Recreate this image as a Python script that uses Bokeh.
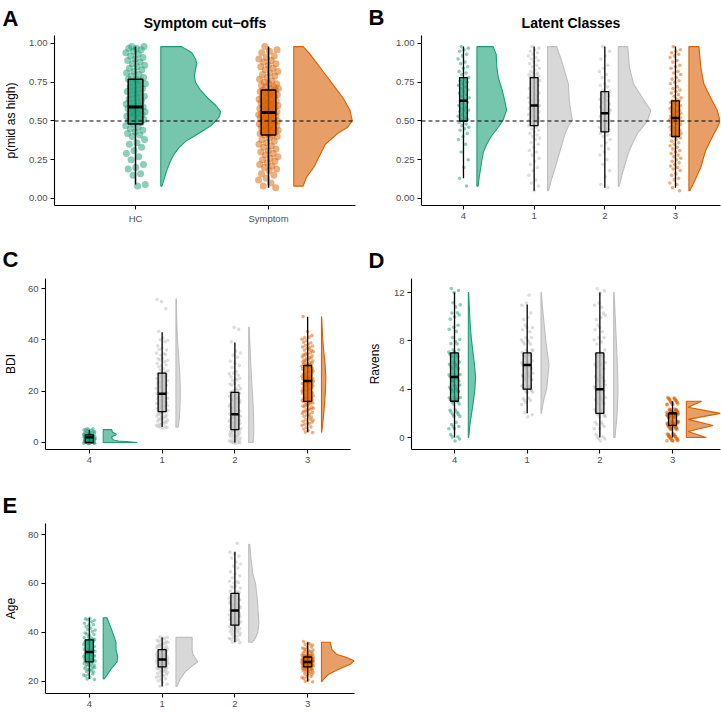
import numpy as np
from bokeh.plotting import figure
from bokeh.models import FixedTicker, PrintfTickFormatter, Span, Label
from bokeh.layouts import column, row
from bokeh.embed import file_html
from bokeh.resources import INLINE

GREEN = "#1B9E77"
ORANGE = "#D95F02"
GREY = "#BEBEBE"
FONT = "Liberation Sans"

# ---------------- Panel A : Symptom cut-offs ----------------
a_groups = ["HC", "Symptom"]
a_hc_points = [0.98, 0.98, 0.97, 0.97, 0.96, 0.95, 0.94, 0.93, 0.92, 0.91, 0.90, 0.89, 0.88, 0.87,
               0.86, 0.85, 0.84, 0.83, 0.82, 0.81, 0.80, 0.79, 0.78, 0.77, 0.77,
               0.76, 0.75, 0.74, 0.73, 0.72, 0.71, 0.70, 0.69, 0.68, 0.67, 0.66, 0.65, 0.64, 0.63,
               0.62, 0.61, 0.60, 0.59, 0.59, 0.58, 0.58, 0.57, 0.56, 0.56, 0.55, 0.55, 0.54, 0.54,
               0.53, 0.52, 0.52, 0.51, 0.50, 0.50, 0.49, 0.48, 0.47, 0.46, 0.45, 0.44, 0.43, 0.42,
               0.41, 0.40, 0.38, 0.36, 0.35, 0.33, 0.31, 0.29, 0.27, 0.25, 0.22, 0.20, 0.19, 0.16,
               0.15, 0.09, 0.08]
a_sym_points = [0.98, 0.96, 0.95, 0.94, 0.92, 0.91, 0.90, 0.89, 0.88, 0.87, 0.86, 0.85, 0.84, 0.83,
                0.82, 0.81, 0.80, 0.79, 0.78, 0.77, 0.76, 0.75, 0.74, 0.74, 0.73, 0.72, 0.72, 0.71,
                0.71, 0.70, 0.70, 0.69, 0.69, 0.68, 0.68, 0.67, 0.67, 0.66, 0.66, 0.65, 0.64, 0.64,
                0.63, 0.63, 0.62, 0.62, 0.61, 0.61, 0.60, 0.60, 0.59, 0.59, 0.58, 0.58, 0.57, 0.57,
                0.56, 0.56, 0.55, 0.55, 0.55, 0.54, 0.54, 0.53, 0.53, 0.52, 0.52, 0.51, 0.51, 0.50,
                0.50, 0.50, 0.49, 0.49, 0.48, 0.48, 0.47, 0.47, 0.46, 0.46, 0.45, 0.45, 0.44, 0.44,
                0.43, 0.43, 0.42, 0.42, 0.41, 0.41, 0.40, 0.39, 0.38, 0.37, 0.36, 0.35, 0.34, 0.33,
                0.32, 0.31, 0.30, 0.29, 0.28, 0.27, 0.26, 0.25, 0.24, 0.23, 0.22, 0.21, 0.20, 0.19,
                0.18, 0.16, 0.15, 0.13, 0.12, 0.10, 0.08, 0.07]
# box stats: q1, median, q3, lower whisker, upper whisker
a_hc_box = [0.48, 0.59, 0.77, 0.09, 0.98]
a_sym_box = [0.41, 0.555, 0.70, 0.07, 0.98]
# half-violin density profiles: values and relative widths
a_hc_dens_y = [0.98, 0.94, 0.90, 0.87, 0.83, 0.79, 0.75, 0.70, 0.65, 0.60, 0.56, 0.53, 0.50,
               0.47, 0.44, 0.40, 0.37, 0.33, 0.29, 0.24, 0.18, 0.13, 0.08]
a_hc_dens_w = [0.35, 0.52, 0.58, 0.60, 0.58, 0.56, 0.58, 0.66, 0.78, 0.92, 1.00, 0.98, 0.92,
               0.84, 0.72, 0.55, 0.42, 0.31, 0.23, 0.16, 0.10, 0.06, 0.02]
a_sym_dens_y = [0.98, 0.94, 0.87, 0.80, 0.74, 0.65, 0.57, 0.50, 0.46, 0.42, 0.35, 0.29, 0.20, 0.14, 0.08]
a_sym_dens_w = [0.16, 0.26, 0.40, 0.54, 0.66, 0.84, 0.96, 1.00, 0.92, 0.75, 0.54, 0.46, 0.34, 0.22, 0.16]
a_dens_max = [0.45, 0.44]

# ---------------- Panels B-E : latent classes ----------------
class_labels = ["4", "1", "2", "3"]
class_colors = [GREEN, GREY, GREY, ORANGE]

# Panel B : p(mid as high) by latent class
b_c4_points = [0.98, 0.97, 0.96, 0.95, 0.93, 0.92, 0.90, 0.88, 0.87, 0.85, 0.84, 0.82, 0.81, 0.80, 0.78,
               0.77, 0.76, 0.75, 0.74, 0.73, 0.72, 0.71, 0.70, 0.69, 0.68, 0.67, 0.66, 0.65, 0.64, 0.63,
               0.62, 0.61, 0.60, 0.59, 0.58, 0.57, 0.57, 0.56, 0.55, 0.54, 0.53, 0.52, 0.51, 0.51, 0.50,
               0.49, 0.48, 0.47, 0.46, 0.45, 0.44, 0.42, 0.40, 0.38, 0.35, 0.30, 0.25, 0.20, 0.13, 0.08]
b_c1_points = [0.98, 0.97, 0.96, 0.95, 0.94, 0.93, 0.92, 0.91, 0.90, 0.89, 0.88, 0.87, 0.86, 0.85, 0.84,
               0.83, 0.82, 0.81, 0.81, 0.80, 0.80, 0.79, 0.79, 0.78, 0.78,
               0.77, 0.77, 0.76, 0.75, 0.74, 0.73, 0.72, 0.71, 0.70, 0.69, 0.68, 0.67, 0.67, 0.66, 0.65,
               0.65, 0.64, 0.63, 0.63, 0.62, 0.62, 0.61, 0.61, 0.60, 0.60,
               0.59, 0.59, 0.58, 0.58, 0.57, 0.57, 0.56, 0.56, 0.55, 0.55, 0.54, 0.54, 0.53, 0.53, 0.52,
               0.52, 0.51, 0.51, 0.50, 0.50, 0.50, 0.49, 0.49, 0.48, 0.47,
               0.46, 0.45, 0.44, 0.43, 0.42, 0.41, 0.40, 0.39, 0.38, 0.36, 0.35, 0.33, 0.31, 0.30, 0.28,
               0.26, 0.24, 0.22, 0.20, 0.18, 0.15, 0.12, 0.10, 0.08, 0.05]
b_c2_points = [0.98, 0.95, 0.92, 0.90, 0.86, 0.84, 0.82, 0.80, 0.78, 0.76, 0.74, 0.73, 0.72, 0.70, 0.69,
               0.68, 0.67, 0.66, 0.65, 0.64, 0.63, 0.62, 0.61, 0.60, 0.59, 0.58, 0.57, 0.57, 0.56, 0.55,
               0.55, 0.54, 0.53, 0.52, 0.51, 0.50, 0.50, 0.49, 0.48, 0.47, 0.46, 0.45, 0.44, 0.44, 0.43,
               0.42, 0.41, 0.40, 0.38, 0.36, 0.34, 0.32, 0.30, 0.28, 0.25, 0.22, 0.18, 0.14, 0.09, 0.07]
b_c3_points = [0.98, 0.96, 0.95, 0.94, 0.93, 0.92, 0.91, 0.89, 0.88, 0.86, 0.85, 0.84, 0.82, 0.81, 0.80,
               0.78, 0.77, 0.76, 0.75, 0.74, 0.72, 0.71, 0.70, 0.69, 0.68, 0.67, 0.66, 0.65, 0.64, 0.63,
               0.63, 0.62, 0.62, 0.61, 0.61, 0.60, 0.60, 0.59, 0.59, 0.58, 0.58, 0.57, 0.57, 0.57, 0.56,
               0.56, 0.56, 0.55, 0.55, 0.55, 0.54, 0.54, 0.54, 0.53, 0.53, 0.53, 0.52, 0.52, 0.52, 0.52,
               0.51, 0.51, 0.51, 0.50, 0.50, 0.50, 0.49, 0.49, 0.49, 0.48, 0.48, 0.47, 0.47, 0.46, 0.46,
               0.45, 0.45, 0.44, 0.44, 0.44, 0.43, 0.43, 0.42, 0.42, 0.42, 0.41, 0.41, 0.41, 0.40, 0.40,
               0.39, 0.38, 0.37, 0.36, 0.35, 0.34, 0.33, 0.32, 0.31, 0.30, 0.29, 0.28, 0.27, 0.26, 0.25,
               0.24, 0.23, 0.22, 0.21, 0.20, 0.19, 0.18, 0.16, 0.15, 0.13, 0.12, 0.10, 0.09, 0.07, 0.05]
b_boxes = [[0.50, 0.63, 0.78, 0.13, 0.98],
           [0.47, 0.60, 0.78, 0.05, 0.98],
           [0.43, 0.55, 0.69, 0.07, 0.98],
           [0.40, 0.52, 0.63, 0.07, 0.98]]
b_c4_dens_y = [0.98, 0.93, 0.85, 0.78, 0.70, 0.63, 0.57, 0.50, 0.45, 0.40, 0.35, 0.30, 0.25, 0.20, 0.14, 0.08]
b_c4_dens_w = [0.55, 0.65, 0.67, 0.72, 0.85, 0.94, 1.00, 0.87, 0.68, 0.48, 0.33, 0.22, 0.17, 0.13, 0.08, 0.04]
b_c1_dens_y = [0.98, 0.92, 0.85, 0.74, 0.63, 0.57, 0.51, 0.46, 0.42, 0.36, 0.31, 0.25, 0.20, 0.12, 0.05]
b_c1_dens_w = [0.37, 0.50, 0.64, 0.84, 0.88, 0.93, 1.00, 0.82, 0.71, 0.60, 0.51, 0.40, 0.31, 0.15, 0.04]
b_c2_dens_y = [0.98, 0.92, 0.85, 0.74, 0.65, 0.60, 0.57, 0.50, 0.46, 0.42, 0.36, 0.31, 0.25, 0.20, 0.14, 0.08]
b_c2_dens_w = [0.29, 0.32, 0.34, 0.47, 0.74, 0.90, 1.00, 0.90, 0.75, 0.59, 0.45, 0.34, 0.25, 0.18, 0.10, 0.03]
b_c3_dens_y = [0.98, 0.92, 0.85, 0.74, 0.65, 0.57, 0.50, 0.46, 0.42, 0.36, 0.31, 0.25, 0.20, 0.12, 0.05]
b_c3_dens_w = [0.32, 0.35, 0.38, 0.48, 0.70, 0.91, 1.00, 0.92, 0.81, 0.66, 0.54, 0.45, 0.38, 0.20, 0.03]
b_dens_max = [0.42, 0.35, 0.46, 0.44]

# Panel C : BDI (integer scores; counts per score starting at the given value)
c_c4_start, c_c4_counts = 0, [22, 15, 14, 12, 8, 6]
c_c1_start, c_c1_counts = 6, [5, 4, 4, 4, 4, 4, 4, 4, 4, 4, 4, 4, 4, 4, 3, 3, 3, 3, 3, 3, 3, 3,
                              2, 2, 2, 2, 2, 2, 2, 2, 2, 1, 1, 1, 2, 1, 0, 1]
c_c1_extra = [52, 55, 56]
c_c2_start, c_c2_counts = 0, [6, 5, 5, 5, 5, 5, 4, 4, 4, 4, 4, 4, 3, 3, 3, 3, 3, 3, 3, 3, 3,
                              2, 2, 2, 2, 2, 2, 2, 1, 1, 1, 1, 1, 1, 1, 1, 1, 0, 0, 1]
c_c2_extra = [44, 45]
c_c3_start, c_c3_counts = 4, [2, 2, 2, 3, 3, 3, 3, 3, 4, 4, 4, 4, 5, 5, 5, 5, 5, 6, 6, 6, 6, 6, 6,
                              5, 5, 5, 5, 5, 4, 4, 4, 3, 3, 3, 3, 2, 2, 2, 1, 1, 0, 0, 0, 0, 0, 1]
c_boxes = [[0, 2, 3, 0, 5], [12, 19, 27, 6, 43], [5, 11, 19.5, 0, 39], [16, 24, 30, 4, 49]]
c_c4_dens_y = [5, 4, 3.2, 2.8, 2.2, 1.5, 1.0, 0.6, 0.3, 0]
c_c4_dens_w = [0.25, 0.27, 0.39, 0.35, 0.25, 0.26, 0.30, 0.45, 0.75, 1.00]
c_c1_dens_y = [56, 50, 45, 40, 35, 30, 25, 20, 15, 10, 6]
c_c1_dens_w = [0.10, 0.15, 0.22, 0.35, 0.55, 0.75, 0.92, 1.00, 0.95, 0.80, 0.50]
c_c2_dens_y = [45, 40, 35, 30, 25, 20, 15, 10, 5, 2, 0]
c_c2_dens_w = [0.10, 0.20, 0.30, 0.42, 0.55, 0.70, 0.85, 0.95, 1.00, 0.95, 0.85]
c_c3_dens_y = [49, 45, 40, 35, 30, 25, 20, 15, 10, 6, 4]
c_c3_dens_w = [0.05, 0.15, 0.30, 0.55, 0.85, 1.00, 0.90, 0.70, 0.45, 0.20, 0.05]
c_dens_max = [0.47, 0.06, 0.07, 0.06]

# Panel D : Ravens (integer scores)
d_c4_start, d_c4_counts = 0, [5, 6, 8, 10, 10, 10, 9, 9, 5, 4, 5, 3, 3]
d_c1_start, d_c1_counts = 2, [3, 6, 12, 12, 14, 10, 8, 5, 3, 2, 1]
d_c2_start, d_c2_counts = 0, [6, 7, 10, 9, 9, 7, 6, 6, 5, 4, 4, 3, 3]
d_c3_start, d_c3_counts = 0, [25, 35, 45, 20]
d_boxes = [[3, 5, 7, 0, 12], [4, 6, 7, 2, 11], [2, 4, 7, 0, 12], [1, 2, 2, 0, 3]]
d_c4_dens_y = [12, 11, 10, 9, 8, 7, 6, 5, 4, 3, 2, 1, 0]
d_c4_dens_w = [0.05, 0.12, 0.20, 0.30, 0.45, 0.65, 0.85, 1.00, 0.90, 0.70, 0.45, 0.20, 0.05]
d_c1_dens_y = [12, 11, 10, 9, 8, 7, 6, 5, 4, 3, 2]
d_c1_dens_w = [0.05, 0.15, 0.30, 0.45, 0.60, 0.80, 1.00, 0.85, 0.70, 0.30, 0.05]
d_c2_dens_y = [12, 10, 8, 6, 4, 2, 0]
d_c2_dens_w = [0.10, 0.35, 0.60, 0.85, 1.00, 0.80, 0.30]
d_c3_dens_y = [3, 2.5, 2, 1.5, 1, 0.5, 0]
d_c3_dens_w = [0.45, 0.05, 1.00, 0.05, 0.78, 0.05, 0.58]
d_dens_max = [0.10, 0.11, 0.06, 0.47]

# Panel E : Age (years)
e_c4_start, e_c4_counts = 21, [2, 2, 3, 3, 4, 4, 5, 6, 6, 6, 5, 5, 5, 4, 4, 5, 4, 3, 3, 2, 2, 2, 2, 2, 2, 2]
e_c1_start, e_c1_counts = 18, [1, 1, 2, 2, 3, 3, 4, 5, 6, 8, 10, 8, 6, 5, 5, 5, 4, 4, 4, 3, 3]
e_c2_start, e_c2_counts = 36, [2, 3, 3, 3, 4, 4, 4, 4, 4, 4, 3, 3, 3, 3, 3, 3, 3, 3, 3,
                               2, 2, 2, 2, 2, 2, 2, 1, 1, 1, 1, 1, 1, 1, 1, 1, 1, 1, 1]
e_c2_extra = [76]
e_c3_start, e_c3_counts = 20, [2, 2, 3, 4, 5, 7, 10, 14, 18, 15, 10, 7, 5, 4, 3, 3, 2]
e_boxes = [[28, 32, 37, 21, 46], [26, 29, 33, 18, 38], [43, 49, 56, 36, 73], [26, 28, 30, 20, 36]]
e_c4_dens_y = [46, 42, 38, 36, 33, 30, 28, 25, 22, 21]
e_c4_dens_w = [0.26, 0.53, 0.77, 0.88, 0.88, 1.00, 0.95, 0.53, 0.19, 0.07]
e_c1_dens_y = [38, 36, 33, 31, 29.5, 28, 26, 24, 21, 18]
e_c1_dens_w = [0.74, 0.74, 0.74, 0.78, 0.89, 1.00, 0.69, 0.43, 0.20, 0.05]
e_c2_dens_y = [76, 70, 64, 60, 54, 48, 44, 40, 37, 36]
e_c2_dens_w = [0.10, 0.23, 0.40, 0.67, 0.83, 0.93, 1.00, 0.90, 0.57, 0.33]
e_c3_dens_y = [36, 33, 31, 30, 28.5, 27, 25, 23, 21, 20]
e_c3_dens_w = [0.27, 0.32, 0.47, 0.73, 1.00, 0.88, 0.53, 0.22, 0.07, 0.02]
e_dens_max = [0.20, 0.30, 0.14, 0.45]


def expand(start, counts, extra=()):
    vals = np.repeat(np.arange(start, start + len(counts)), counts).astype(float)
    return np.concatenate([vals, np.asarray(extra, dtype=float)])


def raincloud(p, pos, pts, box, dens_y, dens_w, dens_max, color, psize, jw, jh, lw):
    pts = np.asarray(pts, dtype=float)
    idx = np.arange(len(pts))
    xo = ((idx * 0.6180339887 + 0.31) % 1.0 * 2 - 1) * jw
    yo = ((idx * 0.7548776662 + 0.57) % 1.0 * 2 - 1) * jh
    dy = np.asarray(dens_y, dtype=float)
    dw = np.asarray(dens_w, dtype=float)
    base = pos + 0.19
    xs = np.concatenate([[base], base + dw * dens_max, [base]])
    ys = np.concatenate([[dy[0]], dy, [dy[-1]]])
    p.patch(xs, ys, fill_color=color, fill_alpha=0.6, line_color=color, line_width=1.1)
    p.scatter(pos + xo, pts + yo, size=psize, fill_color=color, fill_alpha=0.5, line_color=None)
    q1, med, q3, lo, hi = box
    bw = 0.11
    p.segment(x0=[pos], y0=[lo], x1=[pos], y1=[hi], line_color="black", line_width=lw)
    p.quad(left=[pos - bw / 2], right=[pos + bw / 2], bottom=[q1], top=[q3],
           fill_color=color, fill_alpha=0.7, line_color="black", line_width=lw)
    p.segment(x0=[pos - bw / 2], y0=[med], x1=[pos + bw / 2], y1=[med],
              line_color="black", line_width=lw * 1.9)


def make_fig(width, height, borders, xr, yr):
    bl, br, bb = borders
    p = figure(width=width, height=height, x_range=xr, y_range=yr,
               output_backend="svg", toolbar_location=None,
               min_border_left=bl, min_border_right=br,
               min_border_top=0, min_border_bottom=bb)
    p.xgrid.visible = False
    p.ygrid.visible = False
    p.outline_line_color = None
    p.background_fill_color = "white"
    p.border_fill_color = "white"
    for ax in (p.xaxis[0], p.yaxis[0]):
        ax.axis_line_color = "black"
        ax.axis_line_width = 1.1
        ax.major_tick_line_color = "black"
        ax.major_tick_line_width = 1.1
        ax.major_tick_out = 4
        ax.major_tick_in = 0
        ax.minor_tick_line_color = None
        ax.major_label_text_font = FONT
        ax.major_label_text_font_size = "9.5px"
        ax.major_label_text_color = "#4D4D4D"
        ax.major_label_standoff = 3
        ax.axis_label_text_font = FONT
        ax.axis_label_text_font_size = "12px"
        ax.axis_label_text_font_style = "normal"
        ax.axis_label_text_color = "black"
    return p


def header(width, height, texts):
    # strip above a panel holding the panel letter and the panel title;
    # each entry: x, y of the text's top (px from the strip's top-left), text, size, align
    h = figure(width=width, height=height, x_range=(0, 1), y_range=(0, 1), title=None,
               output_backend="svg", toolbar_location=None,
               x_axis_location=None, y_axis_location=None,
               min_border_left=0, min_border_right=0, min_border_top=0, min_border_bottom=0)
    h.outline_line_color = None
    h.xgrid.visible = False
    h.ygrid.visible = False
    for (x, y, text, size, align) in texts:
        h.add_layout(Label(x=x, y=height - y, x_units="screen", y_units="screen", text=text,
                           text_font=FONT, text_font_size=size, text_font_style="bold",
                           text_align=align, text_baseline="top", text_color="black"))
    return h


def class_axis(p):
    p.xaxis.ticker = FixedTicker(ticks=[1, 2, 3, 4])
    p.xaxis.major_label_overrides = {i + 1: lab for i, lab in enumerate(class_labels)}


# ---------- A ----------
hA = header(360, 35, [(2, 5.5, "A", "22px", "left"),
                      (204.5, 14.8, "Symptom cut\u2212offs", "14px", "center")])
pA = make_fig(360, 200, (54, 5, 30), (0.391, 2.654), (-0.0452, 1.0516))
pA.xaxis.ticker = FixedTicker(ticks=[1, 2])
pA.xaxis.major_label_overrides = {1: a_groups[0], 2: a_groups[1]}
pA.yaxis.ticker = FixedTicker(ticks=[0, 0.25, 0.5, 0.75, 1.0])
pA.yaxis.formatter = PrintfTickFormatter(format="%.2f")
pA.yaxis.axis_label = "p(mid as high)"
pA.yaxis.axis_label_standoff = 8
raincloud(pA, 1, a_hc_points, a_hc_box, a_hc_dens_y, a_hc_dens_w, a_dens_max[0], GREEN, 7, 0.075, 0, 1.5)
raincloud(pA, 2, a_sym_points, a_sym_box, a_sym_dens_y, a_sym_dens_w, a_dens_max[1], ORANGE, 7, 0.075, 0, 1.5)
pA.add_layout(Span(location=0.5, dimension="width", line_color="black", line_width=1, line_dash="4 3"))

# ---------- B ----------
hB = header(361, 35, [(8, 4.0, "B", "22px", "left"),
                      (210.5, 14.8, "Latent Classes", "14px", "center")])
pB = make_fig(361, 200, (61, 1, 30), (0.406, 4.637), (-0.0452, 1.0516))
class_axis(pB)
pB.yaxis.ticker = FixedTicker(ticks=[0, 0.25, 0.5, 0.75, 1.0])
pB.yaxis.formatter = PrintfTickFormatter(format="%.2f")
b_points = [b_c4_points, b_c1_points, b_c2_points, b_c3_points]
b_dy = [b_c4_dens_y, b_c1_dens_y, b_c2_dens_y, b_c3_dens_y]
b_dw = [b_c4_dens_w, b_c1_dens_w, b_c2_dens_w, b_c3_dens_w]
for i in range(4):
    raincloud(pB, i + 1, b_points[i], b_boxes[i], b_dy[i], b_dw[i], b_dens_max[i],
              class_colors[i], 3.6, 0.08, 0, 1.3)
pB.add_layout(Span(location=0.5, dimension="width", line_color="black", line_width=1, line_dash="4 3"))

# ---------- C ----------
hC = header(360, 43, [(2, 11.8, "C", "22px", "left")])
pC = make_fig(360, 192, (44, 10, 21), (0.397, 4.589), (-2.73, 63.9))
class_axis(pC)
pC.yaxis.ticker = FixedTicker(ticks=[0, 20, 40, 60])
pC.yaxis.axis_label = "BDI"
pC.yaxis.axis_label_standoff = 7
c_points = [expand(c_c4_start, c_c4_counts), expand(c_c1_start, c_c1_counts, c_c1_extra),
            expand(c_c2_start, c_c2_counts, c_c2_extra), expand(c_c3_start, c_c3_counts)]
c_dy = [c_c4_dens_y, c_c1_dens_y, c_c2_dens_y, c_c3_dens_y]
c_dw = [c_c4_dens_w, c_c1_dens_w, c_c2_dens_w, c_c3_dens_w]
for i in range(4):
    raincloud(pC, i + 1, c_points[i], c_boxes[i], c_dy[i], c_dw[i], c_dens_max[i],
              class_colors[i], 3.6, 0.08, 0.4, 1.3)

# ---------- D ----------
hD = header(361, 43, [(8, 12.8, "D", "22px", "left")])
pD = make_fig(361, 192, (51, 1, 21), (0.408, 4.66), (-0.993, 13.16))
class_axis(pD)
pD.yaxis.ticker = FixedTicker(ticks=[0, 4, 8, 12])
pD.yaxis.axis_label = "Ravens"
pD.yaxis.axis_label_standoff = 9
d_points = [expand(d_c4_start, d_c4_counts), expand(d_c1_start, d_c1_counts),
            expand(d_c2_start, d_c2_counts), expand(d_c3_start, d_c3_counts)]
d_dy = [d_c4_dens_y, d_c1_dens_y, d_c2_dens_y, d_c3_dens_y]
d_dw = [d_c4_dens_w, d_c1_dens_w, d_c2_dens_w, d_c3_dens_w]
for i in range(4):
    raincloud(pD, i + 1, d_points[i], d_boxes[i], d_dy[i], d_dw[i], d_dens_max[i],
              class_colors[i], 3.6, 0.08, 0.35, 1.3)

# ---------- E ----------
hE = header(360, 53, [(2, 22.6, "E", "22px", "left")])
pE = make_fig(360, 189, (44, 6, 19), (0.397, 4.644), (15.10, 84.49))
class_axis(pE)
pE.yaxis.ticker = FixedTicker(ticks=[20, 40, 60, 80])
pE.yaxis.axis_label = "Age"
pE.yaxis.axis_label_standoff = 7
e_points = [expand(e_c4_start, e_c4_counts), expand(e_c1_start, e_c1_counts),
            expand(e_c2_start, e_c2_counts, e_c2_extra), expand(e_c3_start, e_c3_counts)]
e_dy = [e_c4_dens_y, e_c1_dens_y, e_c2_dens_y, e_c3_dens_y]
e_dw = [e_c4_dens_w, e_c1_dens_w, e_c2_dens_w, e_c3_dens_w]
for i in range(4):
    raincloud(pE, i + 1, e_points[i], e_boxes[i], e_dy[i], e_dw[i], e_dens_max[i],
              class_colors[i], 3.6, 0.08, 0.4, 1.3)

# header strips sit in their own rows so their frames are not aligned to the panels
layout = column(row(hA, hB), row(pA, pB),
                row(hC, hD), row(pC, pD),
                row(hE), row(pE))
open("out.html", "w").write(file_html(layout, INLINE))
